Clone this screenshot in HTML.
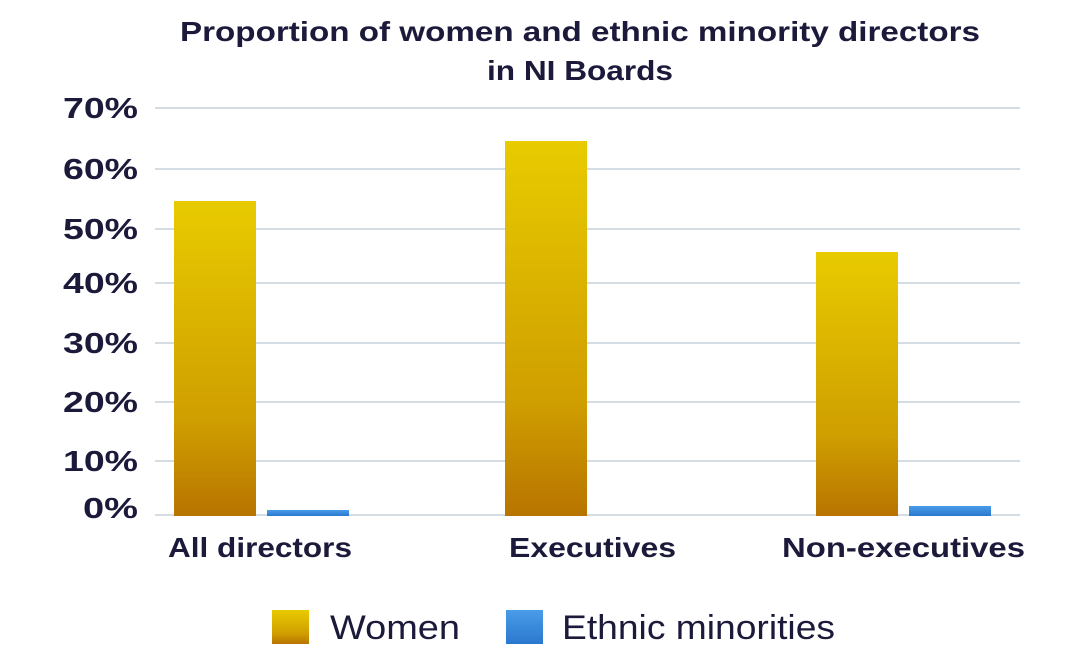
<!DOCTYPE html>
<html><head><meta charset="utf-8"><style>
body{margin:0;background:#fff;width:1072px;height:663px;overflow:hidden;font-family:"Liberation Sans",sans-serif}
</style></head><body>
<svg width="1072" height="663" xmlns="http://www.w3.org/2000/svg">
<defs>
<linearGradient id="g" x1="0" y1="0" x2="0" y2="1"><stop offset="0" stop-color="#e8cb00"/><stop offset="0.7" stop-color="#cf9e00"/><stop offset="1" stop-color="#b87400"/></linearGradient>
<linearGradient id="b" x1="0" y1="0" x2="0" y2="1"><stop offset="0" stop-color="#4a9ce8"/><stop offset="1" stop-color="#2a78cf"/></linearGradient>
</defs>
<g font-weight="bold" fill="#1c1a3a" font-size="28" lengthAdjust="spacingAndGlyphs">
<text x="180" y="41" textLength="800" lengthAdjust="spacingAndGlyphs">Proportion of women and ethnic minority directors</text>
<text x="487" y="80" textLength="186" lengthAdjust="spacingAndGlyphs">in NI Boards</text>
</g>
<g stroke="#d3dde3" stroke-width="2">
<line x1="155" x2="1020" y1="108" y2="108"/><line x1="155" x2="1020" y1="169" y2="169"/><line x1="155" x2="1020" y1="229" y2="229"/><line x1="155" x2="1020" y1="283" y2="283"/><line x1="155" x2="1020" y1="343" y2="343"/><line x1="155" x2="1020" y1="402" y2="402"/><line x1="155" x2="1020" y1="461" y2="461"/><line x1="155" x2="1020" y1="515" y2="515"/>
</g>
<g font-size="29" font-weight="bold" fill="#1c1a3a">
<text x="63" y="118" textLength="75" lengthAdjust="spacingAndGlyphs">70%</text>
<text x="63" y="179" textLength="75" lengthAdjust="spacingAndGlyphs">60%</text>
<text x="63" y="239" textLength="75" lengthAdjust="spacingAndGlyphs">50%</text>
<text x="63" y="293" textLength="75" lengthAdjust="spacingAndGlyphs">40%</text>
<text x="63" y="353" textLength="75" lengthAdjust="spacingAndGlyphs">30%</text>
<text x="63" y="412" textLength="75" lengthAdjust="spacingAndGlyphs">20%</text>
<text x="63" y="471" textLength="75" lengthAdjust="spacingAndGlyphs">10%</text>
<text x="83" y="518" textLength="55" lengthAdjust="spacingAndGlyphs">0%</text>
</g>
<rect x="174" y="201" width="82" height="315" fill="url(#g)"/>
<rect x="267" y="510" width="82" height="6" fill="url(#b)"/>
<rect x="505" y="141" width="82" height="375" fill="url(#g)"/>
<rect x="816" y="252" width="82" height="264" fill="url(#g)"/>
<rect x="909" y="506" width="82" height="10" fill="url(#b)"/>
<g font-size="28" font-weight="bold" fill="#1c1a3a">
<text x="168" y="557" textLength="184" lengthAdjust="spacingAndGlyphs">All directors</text>
<text x="509" y="557" textLength="167" lengthAdjust="spacingAndGlyphs">Executives</text>
<text x="782" y="557" textLength="243" lengthAdjust="spacingAndGlyphs">Non-executives</text>
</g>
<rect x="272" y="610" width="37" height="34" fill="url(#g)"/>
<text x="330" y="639" font-size="34" fill="#1c1a3a" textLength="130" lengthAdjust="spacingAndGlyphs">Women</text>
<rect x="506" y="610" width="37" height="34" fill="url(#b)"/>
<text x="562" y="639" font-size="34" fill="#1c1a3a" textLength="273" lengthAdjust="spacingAndGlyphs">Ethnic minorities</text>
</svg>
</body></html>
